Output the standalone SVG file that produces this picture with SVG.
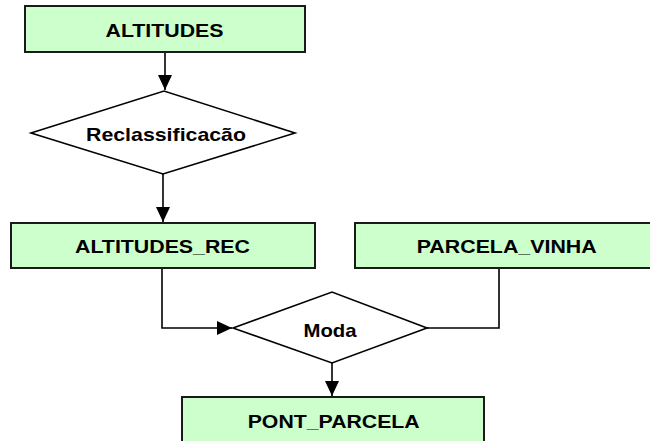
<svg xmlns="http://www.w3.org/2000/svg" width="650" height="441" viewBox="0 0 650 441">
<style>
.box{fill:#ccffcc;stroke:#1a1a1a;stroke-width:2}
.dia{fill:#ffffff;stroke:#000;stroke-width:1.6}
.lbl{font-family:"Liberation Sans",Arial,sans-serif;font-weight:bold;font-size:19px;fill:#000;text-anchor:middle}
.con{fill:none;stroke:#000;stroke-width:1.6}
</style>
<defs>
<marker id="arr" markerUnits="userSpaceOnUse" markerWidth="16" markerHeight="14" refX="15" refY="7" orient="auto">
<path d="M0,0 L15,7 L0,14 z" fill="#000"/>
</marker>
</defs>
<g id="connectors">
<path class="con" d="M165,53 L165,90" marker-end="url(#arr)"/>
<path class="con" d="M163,174 L163,222" marker-end="url(#arr)"/>
<path class="con" d="M162,268 L162,328 L232,328" marker-end="url(#arr)"/>
<path class="con" d="M499,268 L499,328 L427,328"/>
<path class="con" d="M332,363 L332,396" marker-end="url(#arr)"/>
</g>
<g id="altitudes">
<rect class="box" x="25" y="6" width="280" height="46"/>
<text class="lbl" x="164.5" y="37" textLength="118" lengthAdjust="spacingAndGlyphs">ALTITUDES</text>
</g>
<g id="reclassificacao">
<polygon class="dia" points="31,133 164,91 295,133 163,174"/>
<text class="lbl" x="166" y="141" textLength="160" lengthAdjust="spacingAndGlyphs">Reclassificacão</text>
</g>
<g id="altitudes_rec">
<rect class="box" x="11" y="223" width="304" height="45"/>
<text class="lbl" x="162.5" y="253" textLength="175" lengthAdjust="spacingAndGlyphs">ALTITUDES_REC</text>
</g>
<g id="parcela_vinha">
<rect class="box" x="355" y="223" width="304" height="45"/>
<text class="lbl" x="506.7" y="253" textLength="180" lengthAdjust="spacingAndGlyphs">PARCELA_VINHA</text>
</g>
<g id="moda">
<polygon class="dia" points="233,328 332,292 427,328 332,363"/>
<text class="lbl" x="330" y="337" textLength="53" lengthAdjust="spacingAndGlyphs">Moda</text>
</g>
<g id="pont_parcela">
<rect class="box" x="182" y="397" width="302" height="46"/>
<text class="lbl" x="333.7" y="428" textLength="172" lengthAdjust="spacingAndGlyphs">PONT_PARCELA</text>
</g>
</svg>
